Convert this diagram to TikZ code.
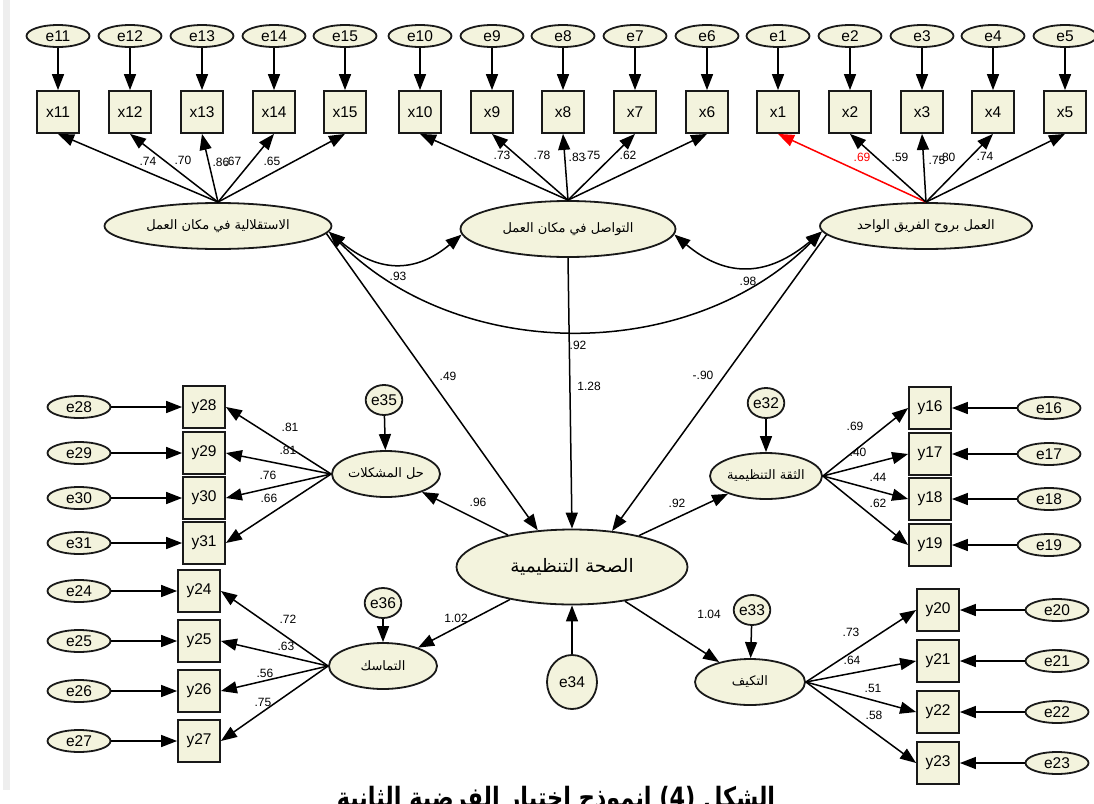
\documentclass[tikz,border=0pt]{standalone}
\usepackage{graphicx}
\usepackage{fontspec}
\setmainfont{Liberation Sans}
\newfontfamily\arabicfont[Script=Arabic]{DejaVu Sans}
\TeXXeTstate=1
\usetikzlibrary{shapes.geometric,arrows.meta}

\definecolor{semfill}{RGB}{243,243,221}
\definecolor{semline}{RGB}{25,25,25}
\definecolor{semstrip}{RGB}{238,238,238}

\newcommand\semlabelstyle{\fontsize{15.5}{17}\selectfont}
\newcommand\semcoefstyle{\fontsize{12}{14}\selectfont}
\newcommand\semarabic[1]{{\arabicfont\beginR #1\endR}}
\newcommand\semtip{Triangle[length=16pt,width=12pt]}

\tikzset{
  semarrow/.style={line width=1.5pt, -{\semtip}},
  semcorr/.style={line width=1.5pt, {\semtip}-{\semtip}},
  errvar/.style={ellipse, draw=semline, line width=1.8pt, fill=semfill,
    minimum width=63pt, minimum height=22pt, inner sep=0pt, font=\semlabelstyle},
  resid/.style={ellipse, draw=semline, line width=1.8pt, fill=semfill,
    minimum width=30pt, minimum height=30pt, inner sep=0pt, font=\semlabelstyle},
  obsvar/.style={rectangle, draw=semline, line width=1.8pt, fill=semfill,
    minimum width=42pt, minimum height=42pt, inner sep=0pt, font=\semlabelstyle},
  latent/.style={ellipse, draw=semline, line width=1.8pt, fill=semfill,
    inner sep=0pt, font=\fontsize{13}{15}\selectfont},
  coef/.style={inner sep=0pt, font=\semcoefstyle},
}

% indicator on the top row: error above, loading from the factor below
\newcommand\topitem[5][black]{
  \node[obsvar] (#3) at (#2,-112) {#3};
  \node[errvar] (#4) at (#2,-36) {#4};
  \draw[semarrow] (#4) -- (#3);
  \draw[semarrow, #1] (#5.north) -- (#3.south);
}
% indicator on the left side
\newcommand\leftitem[5]{
  \node[obsvar] (#3) at (#1,-#2) {#3};
  \node[errvar] (#4) at (79,-#2) {#4};
  \draw[semarrow] (#4) -- (#3);
  \draw[semarrow] (#5.west) -- (#3.east);
}
% indicator on the right side
\newcommand\rightitem[6]{
  \node[obsvar] (#4) at (#1,-#3) {#4};
  \node[errvar] (#5) at (#2,-#3) {#5};
  \draw[semarrow] (#5) -- (#4);
  \draw[semarrow] (#6.east) -- (#4.west);
}
\newcommand\coefat[4][black]{\node[coef, text=#1] (#2) at (#3) {#4};}

\begin{document}
\begin{tikzpicture}[x=1pt,y=1pt]
  \useasboundingbox (0,0) rectangle (1094,-803);
  \fill[white] (0,0) rectangle (1094,-803);
  \fill[semstrip] (3,0) rectangle (10,-790);

  \node[latent, minimum width=227pt, minimum height=46pt] (indep) at (218,-226)
    {\semarabic{الاستقلالية في مكان العمل}};
  \node[latent, minimum width=215pt, minimum height=56pt] (comm) at (568,-229)
    {\semarabic{التواصل في مكان العمل}};
  \node[latent, minimum width=212pt, minimum height=46pt] (team) at (926,-226)
    {\semarabic{العمل بروح الفريق الواحد}};
  \node[latent, minimum width=231pt, minimum height=75pt, font=\fontsize{18.5}{20}\selectfont]
    (health) at (572,-567) {\semarabic{الصحة التنظيمية}};
  \node[latent, minimum width=108pt, minimum height=46pt] (solve) at (386,-474)
    {\semarabic{حل المشكلات}};
  \node[latent, minimum width=108pt, minimum height=46pt] (cohes) at (383,-666)
    {\semarabic{التماسك}};
  \node[latent, minimum width=112pt, minimum height=46pt] (trust) at (766,-476)
    {\semarabic{الثقة التنظيمية}};
  \node[latent, minimum width=110pt, minimum height=46pt] (adapt) at (750,-682)
    {\semarabic{التكيف}};

  \topitem{58}{x11}{e11}{indep}
  \topitem{130}{x12}{e12}{indep}
  \topitem{202}{x13}{e13}{indep}
  \topitem{274}{x14}{e14}{indep}
  \topitem{345}{x15}{e15}{indep}
  \topitem{420}{x10}{e10}{comm}
  \topitem{492}{x9}{e9}{comm}
  \topitem{563}{x8}{e8}{comm}
  \topitem{635}{x7}{e7}{comm}
  \topitem{707}{x6}{e6}{comm}
  \topitem[red]{778}{x1}{e1}{team}
  \topitem{850}{x2}{e2}{team}
  \topitem{922}{x3}{e3}{team}
  \topitem{993}{x4}{e4}{team}
  \topitem{1065}{x5}{e5}{team}

  \leftitem{204}{407}{y28}{e28}{solve}
  \leftitem{204}{453}{y29}{e29}{solve}
  \leftitem{204}{498}{y30}{e30}{solve}
  \leftitem{204}{543}{y31}{e31}{solve}
  \leftitem{199}{591}{y24}{e24}{cohes}
  \leftitem{199}{641}{y25}{e25}{cohes}
  \leftitem{199}{691}{y26}{e26}{cohes}
  \leftitem{199}{741}{y27}{e27}{cohes}

  \rightitem{930}{1049}{408}{y16}{e16}{trust}
  \rightitem{930}{1049}{454}{y17}{e17}{trust}
  \rightitem{930}{1049}{499}{y18}{e18}{trust}
  \rightitem{930}{1049}{545}{y19}{e19}{trust}
  \rightitem{938}{1057}{610}{y20}{e20}{adapt}
  \rightitem{938}{1057}{661}{y21}{e21}{adapt}
  \rightitem{938}{1057}{712}{y22}{e22}{adapt}
  \rightitem{938}{1057}{763}{y23}{e23}{adapt}

  \node[resid] (e35) at (384,-400) {e35};
  \node[resid] (e36) at (383,-603) {e36};
  \node[resid] (e32) at (766,-403) {e32};
  \node[resid] (e33) at (752,-610) {e33};
  \node[resid, minimum width=50pt, minimum height=54pt] (e34) at (572,-682) {e34};
  \draw[semarrow] (e35) -- (solve);
  \draw[semarrow] (e36) -- (cohes);
  \draw[semarrow] (e32) -- (trust);
  \draw[semarrow] (e33) -- (adapt);
  \draw[semarrow] (e34) -- (health);

  \draw[semarrow] (indep.-4) -- (health.133);
  \draw[semarrow] (comm.south) -- (health.north);
  \draw[semarrow] (team.185) -- (health.42);
  \draw[semarrow] (health) -- (solve);
  \draw[semarrow] (health) -- (cohes);
  \draw[semarrow] (health) -- (trust);
  \draw[semarrow] (health) -- (adapt);

  \draw[semcorr] (indep.-3) to[out=-40, in=-140, looseness=1.2] (comm.183);
  \draw[semcorr] (comm.-3) to[out=-40, in=-140, looseness=1.2] (team.183);
  \draw[semcorr] (indep.-3) to[out=-45, in=-135, looseness=0.97] (team.183);

  \coefat{c-x11}{148,-161}{.74}
  \coefat{c-x12}{183,-160}{.70}
  \coefat{c-x13}{221,-162}{.86}
  \coefat{c-x14}{233,-161}{.67}
  \coefat{c-x15}{272,-161}{.65}
  \coefat{c-x10}{502,-155}{.73}
  \coefat{c-x9}{542,-155}{.78}
  \coefat{c-x8}{577,-157}{.83}
  \coefat{c-x7}{592,-155}{.75}
  \coefat{c-x6}{628,-155}{.62}
  \coefat[red]{c-x1}{862,-157}{.69}
  \coefat{c-x2}{900,-157}{.59}
  \coefat{c-x3}{937,-160}{.75}
  \coefat{c-x4}{947,-157}{.80}
  \coefat{c-x5}{985,-156}{.74}

  \coefat{r-ic}{398,-276}{.93}
  \coefat{r-ct}{748,-281}{.98}
  \coefat{r-it}{578,-345}{.92}
  \coefat{b-indep}{448,-376}{.49}
  \coefat{b-comm}{589,-386}{1.28}
  \coefat{b-team}{703,-375}{\mbox{-.90}}

  \coefat{b-solve}{478,-502}{.96}
  \coefat{b-trust}{677,-503}{.92}
  \coefat{b-cohes}{456,-618}{1.02}
  \coefat{b-adapt}{709,-614}{1.04}

  \coefat{c-y28}{290,-427}{.81}
  \coefat{c-y29}{288,-450}{.81}
  \coefat{c-y30}{268,-475}{.76}
  \coefat{c-y31}{269,-498}{.66}
  \coefat{c-y24}{288,-619}{.72}
  \coefat{c-y25}{286,-646}{.63}
  \coefat{c-y26}{265,-673}{.56}
  \coefat{c-y27}{263,-702}{.75}
  \coefat{c-y16}{855,-426}{.69}
  \coefat{c-y17}{858,-452}{.40}
  \coefat{c-y18}{878,-477}{.44}
  \coefat{c-y19}{878,-503}{.62}
  \coefat{c-y20}{851,-632}{.73}
  \coefat{c-y21}{852,-660}{.64}
  \coefat{c-y22}{873,-688}{.51}
  \coefat{c-y23}{874,-715}{.58}

  \node[anchor=base, inner sep=0pt, font=\fontsize{28}{30}\selectfont\arabicfont\bfseries]
    (caption) at (556,-807)
    {\scalebox{0.8}[1]{\beginR الشكل \beginL(4)\endL{} انموذج اختبار الفرضية الثانية\endR}};
\end{tikzpicture}
\end{document}
